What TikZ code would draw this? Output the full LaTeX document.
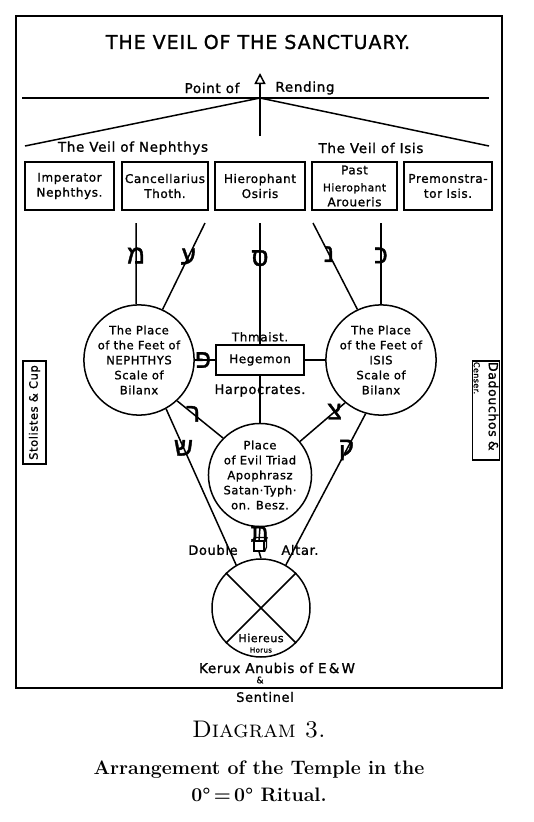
\documentclass[tikz,border=0pt]{standalone}
\usepackage{fontspec}
\newfontfamily\hand[LetterSpace=5, FakeBold=1.2]{DejaVu Sans}
\newfontfamily\hebfont[Script=Hebrew, FakeBold=1.5]{Liberation Sans}
\TeXXeTstate=1
\usetikzlibrary{arrows.meta,positioning}

\tikzset{
  hand/.style={font=\hand\fontsize{#1}{15}\selectfont, align=center, inner sep=1pt},
  hand/.default=12,
  officer/.style={draw, hand=12, minimum height=48pt},
  station/.style={draw, circle, inner sep=0pt, hand=11.5},
  heb/.style={font=\hebfont\fontsize{26}{26}\selectfont, inner sep=0pt},
}

\begin{document}
\begin{tikzpicture}[x=1pt, y=-1pt, line width=1.5pt]
  \path[use as bounding box, fill=white] (0,0) rectangle (534,822);

  % Frame and title
  \draw[line width=1.8pt] (16,16) rectangle (502,688);
  \node[hand=19] (title) at (258,42) {THE VEIL OF THE SANCTUARY.};

  % Point of rending
  \coordinate (apex) at (260,98);
  \coordinate (hl) at (22,98);
  \coordinate (hr) at (489,98);
  \coordinate (vl) at (25,146);
  \coordinate (vr) at (489,146);
  \coordinate (foot) at (260,136);
  \coordinate (tip) at (260,73);
  \draw (hl) -- (hr);
  \draw (vl) -- (apex) -- (vr);
  \draw[-{Triangle[open, length=11pt, width=11pt]}] (foot) -- (tip);
  \node[hand=13.5] (point) at (212,88) {Point of};
  \node[hand=13.5] (rend) at (305,88) {Rending};
  \node[hand=13.5] (veiln) at (133,148) {The Veil of Nephthys};
  \node[hand=13.5] (veili) at (371,148) {The Veil of Isis};

  % Officers of the dais
  \foreach \n/\cx/\w/\txt in {imp/69.5/89/{Imperator\\Nephthys.},
      canc/165/86/{Cancellarius\\Thoth.},
      hiero/260/90/{Hierophant\\Osiris},
      praem/448/88/{Premonstra-\\tor Isis.}}
    \node[officer, minimum width=\w pt] (\n) at (\cx,186) {\txt};
  \node[officer, minimum width=85pt, inner sep=0pt] (past) at (354.5,186)
    {Past\\[2pt]\fontsize{10.5}{10}\selectfont Hierophant\\Aroueris};

  % Stations
  \node[station, minimum size=102pt] (hod) at (139,360)
    {The Place\\of the Feet of\\NEPHTHYS\\Scale of\\Bilanx};
  \node[station, minimum size=98pt] (netz) at (381,360)
    {The Place\\of the Feet of\\ISIS\\Scale of\\Bilanx};
  \node[station, minimum size=96pt] (yesod) at (260,475)
    {Place\\of Evil Triad\\Apophrasz\\Satan·Typh·\\on. Besz.};
  \node[draw, circle, minimum size=98pt, inner sep=0pt] (malk) at (261,608) {};
  \draw (malk.45) -- (malk.-135);
  \draw (malk.135) -- (malk.-45);
  \node[hand=11] (hier) at (261,638) {Hiereus};
  \node[hand=7] (horus) at (261,650) {Horus};

  \node[draw, hand=12, minimum width=88pt, minimum height=30pt] (heg) at (260,360) {Hegemon};
  \node[hand=12, above=1pt of heg] (thm) {Thmaist.};
  \node[hand=13, below=7pt of heg] (harp) {Harpocrates.};

  % Double altar
  \node[draw, minimum size=10pt, inner sep=0pt, line width=1.2pt] (altar) at (259,546) {};
  \draw[line width=1.2pt] (altar.north west) -- ++(3,-3) -- ++(10,0) -- ++(0,10) -- (altar.south east);
  \draw[line width=1.2pt] (altar.north east) -- ++(3,-3);
  \node[hand=13] (double) at (213,550) {Double};
  \node[hand=13] (altxt) at (300,550) {Altar.};

  % Paths with their letters
  \coordinate (mem) at (136,223);
  \coordinate (ayin) at (205,223);
  \coordinate (samekh) at (260,223);
  \coordinate (nun) at (313,223);
  \coordinate (kaph) at (381,223);
  \draw (mem) -- node[heb, pos=.4] {\beginR מ\endR} (hod.93);
  \draw (ayin) -- node[heb, pos=.39] {\beginR ע\endR} (hod.65);
  \draw (samekh) -- node[heb, pos=.29] {\beginR ס\endR} (heg.north);
  \draw (nun) -- node[heb, pos=.36] {\beginR נ\endR} (netz.115);
  \draw (kaph) -- node[heb, pos=.4] {\beginR כ\endR} (netz.north);
  \draw (hod.east) -- node[heb, pos=.4] {\beginR פ\endR} (heg.west);
  \draw (heg.east) -- (netz.west);
  \draw (heg.south) -- (yesod.north);
  \draw (hod.-47) -- node[heb, pos=.35] {\beginR ר\endR} (yesod.135);
  \draw (hod.-61) -- node[heb, pos=.25] {\beginR ש\endR} (malk.120);
  \draw (netz.-130) -- node[heb, pos=.23] {\beginR צ\endR} (yesod.40);
  \draw (netz.-106) -- node[heb, pos=.24] {\beginR ק\endR} (malk.60);
  \draw (yesod.south) -- node[heb, pos=.5] {\beginR ת\endR} (altar.north);
  \draw (altar.south) -- (malk.north);

  % Side stations
  \node[draw, rotate=90, hand=11.5, minimum width=103pt, minimum height=23pt] (stol) at (34.5,412.5)
    {Stolistes \& Cup};
  \node[draw, rotate=-90, hand=12.5, text width=97pt, align=left, minimum height=20pt] (dad) at (486,410.5)
    {Dadouchos \&\\\fontsize{8}{7}\selectfont Censer.};

  % Kerux and Sentinel
  \node[hand=13.5] (kerux) at (277,668) {Kerux Anubis of E\,\&\,W};
  \node[hand=9] (amp) at (260,680) {\&};
  \node[hand=13] (sent) at (265,697) {Sentinel};

  % Caption
  \node[font=\fontsize{24}{28}\selectfont] (diag) at (259,730) {\textsc{Diagram 3.}};
  \node[font=\bfseries\fontsize{19.5}{27}\selectfont, align=center] (cap) at (259,781)
    {Arrangement of the Temple in the\\0°\,=\,0° Ritual.};
\end{tikzpicture}
\end{document}
